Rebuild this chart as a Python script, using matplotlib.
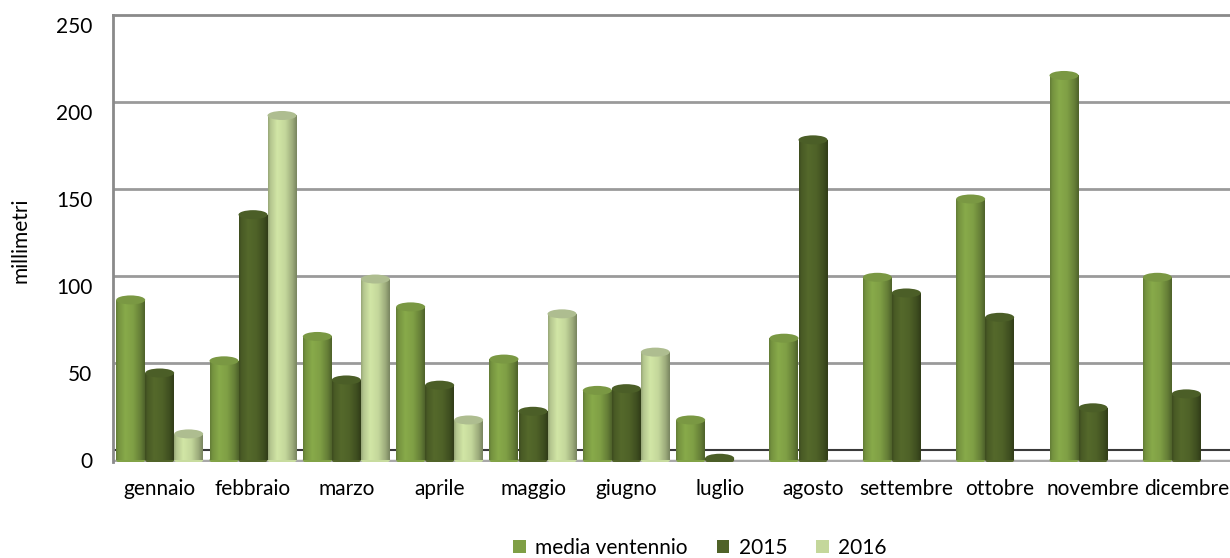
import numpy as np
import matplotlib
matplotlib.use("Agg")
import matplotlib.pyplot as plt
from matplotlib.patches import Ellipse, Patch
from matplotlib.colors import to_rgb

# ---------------- data ----------------
months = ["gennaio", "febbraio", "marzo", "aprile", "maggio", "giugno",
          "luglio", "agosto", "settembre", "ottobre", "novembre", "dicembre"]
media_ventennio = [92, 57, 71, 88, 58, 40, 23, 70, 105, 150, 221, 105]
y2015 = [50, 141, 46, 43, 28, 41, 1, 184, 96, 82, 30, 38]
y2016 = [15, 198, 104, 23, 84, 62, None, None, None, None, None, None]
series_names = ["media ventennio", "2015", "2016"]
yticks = [0, 50, 100, 150, 200, 250]

# ---------------- style ----------------
colors = ["#7f9f45", "#4f6228", "#c4d79b"]
top_colors = ["#7a9843", "#4b5e27", "#aebd90"]
font = ["Lato", "DejaVu Sans"]
plt.rcParams["font.family"] = font
FS = 15

W, H, DPI = 1230, 558, 100
fig = plt.figure(figsize=(W / DPI, H / DPI), dpi=DPI)

# axes area in pixels
left_px, right_px, top_px, bottom_px = 113, 1230, 15, 462
ax = fig.add_axes([left_px / W, 1 - bottom_px / H,
                   (right_px - left_px) / W, (bottom_px - top_px) / H])

px_per_unit = 1.74
y_top = (460 - top_px) / px_per_unit
y_bot = (460 - bottom_px) / px_per_unit
ax.set_ylim(y_bot, y_top)
cat_px = 1120 / 12
ax.set_xlim(-0.5, -0.5 + (right_px - left_px) / cat_px)

wall_offset = 10 / px_per_unit  # back wall is drawn higher than the front

# back-wall gridlines
for v in yticks[1:-1]:
    ax.axhline(v + wall_offset, color="#9a9a9a", lw=2.0, zorder=1)
ax.axhline(0 + wall_offset, color="#3a3a3a", lw=1.5, zorder=1)
ax.axhline(y_bot + 0.5, color="#a8a8a8", lw=2.5, zorder=1)

for s in ["top", "left"]:
    ax.spines[s].set_color("#8a8a8a")
    ax.spines[s].set_linewidth(2.0)
for s in ["right", "bottom"]:
    ax.spines[s].set_visible(False)

# gradient profile for cylinders
t = np.linspace(0, 1, 60)
prof = np.interp(t, [0, 0.08, 0.32, 0.6, 0.85, 1.0],
                 [0.78, 0.92, 1.07, 1.0, 0.8, 0.62])

bar_w = 29 / cat_px
x = np.arange(len(months))
ell_h = 9 / px_per_unit
series = [media_ventennio, y2015, y2016]
for i, vals in enumerate(series):
    base = np.array(to_rgb(colors[i]))
    grad = np.clip(base[None, :] * prof[:, None], 0, 1)[None, :, :]
    xs = [xi + (i - 1) * bar_w for xi, v in zip(x, vals) if v is not None]
    hs = [v for v in vals if v is not None]
    bars = ax.bar(xs, hs, width=bar_w, color=colors[i], zorder=3,
                  linewidth=0)
    for b in bars:
        bx, bw, bh = b.get_x(), b.get_width(), b.get_height()
        im = ax.imshow(grad, extent=(bx, bx + bw, 0, bh), aspect="auto",
                       zorder=3, interpolation="bilinear")
        im.set_clip_path(b)
        b.set_alpha(0)
        # bottom rounding
        ax.add_patch(Ellipse((bx + bw / 2, 0), bw, ell_h, color=tuple(grad[0, 30]),
                             zorder=2.9, lw=0))
        # cylinder top
        ax.add_patch(Ellipse((bx + bw / 2, bh), bw, ell_h,
                             facecolor=top_colors[i], edgecolor="none",
                             zorder=4))

ax.set_yticks(yticks)
ax.set_yticklabels([str(v) for v in yticks], fontsize=FS)
ax.tick_params(axis="y", length=0, pad=15)
ax.set_xticks(x)
ax.set_xticklabels(months, fontsize=FS)
ax.tick_params(axis="x", length=0, pad=12)

fig.text(20 / W, 1 - 240 / H, "millimetri", rotation=90, ha="center",
         va="center", fontsize=FS)

handles = [Patch(facecolor=c, edgecolor="none") for c in colors]
fig.legend(handles, series_names, loc="center", ncol=3,
           bbox_to_anchor=(700 / W, 1 - 548 / H), frameon=False,
           fontsize=FS, handlelength=0.6, handleheight=0.6,
           handletextpad=0.45, columnspacing=1.4)

fig.savefig("out.png", dpi=DPI)
